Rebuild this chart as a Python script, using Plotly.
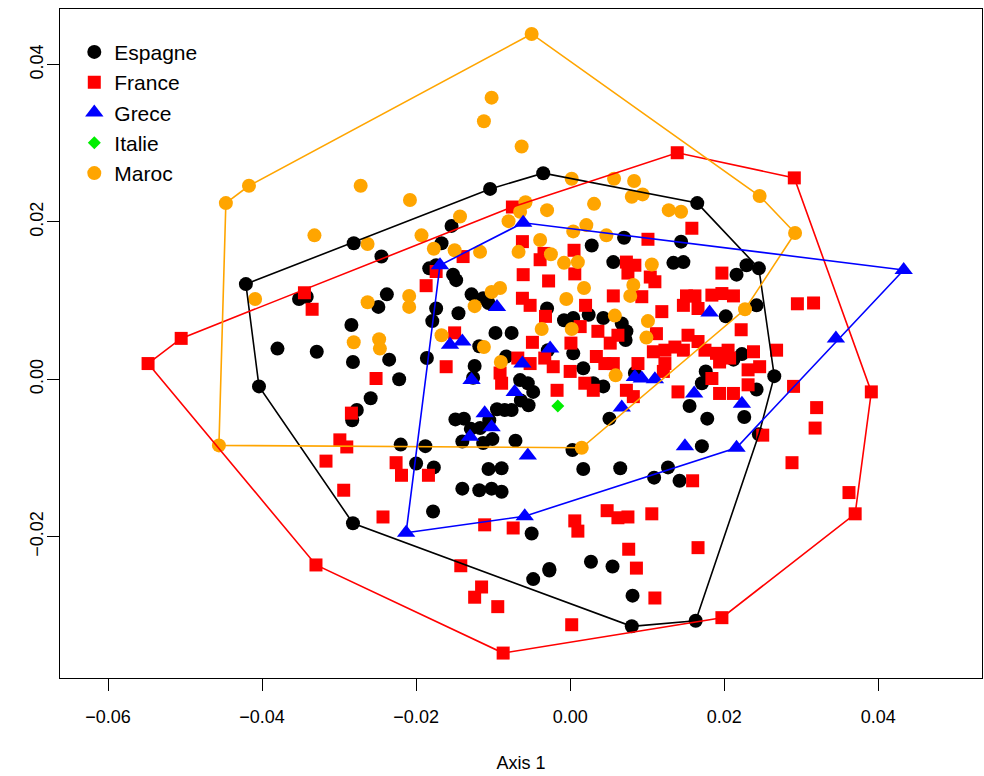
import plotly.graph_objects as go

# ---- Espagne ----
esp_x = [-0.0421, -0.0281, -0.0104, -0.0035, 0.0165, 0.0245, 0.0265, 0.0163, 0.0080, -0.0282, -0.0404,
         -0.0352, -0.0342, -0.0284, -0.0380, -0.0329, -0.0282, -0.0283, -0.0277, -0.0245, -0.0154,
         -0.0167, -0.0174, -0.0183, -0.0152, -0.0148, -0.0238, -0.0249, -0.0174, -0.0179, -0.0145,
         -0.0128, -0.0113, -0.0106, -0.0097, -0.0076, -0.0235, -0.0222, -0.0186, -0.0259, -0.0124,
         -0.0118, -0.0083, -0.0065, -0.0055, -0.0048, -0.0126, -0.0030, -0.0008, 0.0004, 0.0024,
         0.0043, 0.0067, 0.0073, 0.0056, 0.0070, 0.0028, -0.0029, 0.0004, 0.0017, 0.0030, 0.0043,
         0.0072, 0.0084, 0.0144, 0.0134, 0.0147, 0.0229, 0.0216, 0.0242, 0.0202, 0.0223, 0.0212,
         0.0176, 0.0171, 0.0242,
         -0.0220, -0.0188, -0.0200, -0.0177, -0.0149, -0.0138, -0.0129, -0.0117, -0.0105, -0.0095,
         -0.0085, -0.0076, -0.0064, -0.0054, -0.0140, -0.0113, -0.0101, -0.0071, -0.0140, -0.0118,
         -0.0102, -0.0089, -0.0106, -0.0089, -0.0178, -0.0050, -0.0027, -0.0048, -0.0027, 0.0027,
         0.0055, 0.0081, 0.0109, 0.0127, 0.0142, 0.0065, 0.0017, 0.0003, 0.0155, 0.0178, 0.0226,
         0.0245, 0.0171, 0.0051]
esp_y = [0.0121, 0.0173, 0.0242, 0.0262, 0.0224, 0.0141, 0.0004, -0.0307, -0.0314, -0.0183, -0.0009,
         0.0102, 0.0105, 0.0069, 0.0039, 0.0035, 0.0022, -0.0052, -0.0039, 0.0156, 0.0195,
         0.0173, 0.0145, 0.0141, 0.0133, 0.0126, 0.0108, 0.0092, 0.0090, 0.0074, 0.0084,
         0.0108, 0.0103, 0.0097, 0.0059, 0.0059, 0.0025, 0.0000, 0.0027, -0.0024, 0.0017,
         0.0042, 0.0029, -0.0001, -0.0005, -0.0016, 0.0002, 0.0090, 0.0075, 0.0078, 0.0082,
         0.0078, 0.0071, 0.0061, 0.0149, 0.0180, 0.0170, 0.0037, 0.0033, 0.0014, -0.0005, -0.0009,
         0.0050, 0.0008, 0.0175, 0.0148, 0.0149, 0.0145, 0.0133, 0.0094, 0.0080, 0.0032, 0.0025,
         0.0010, -0.0005, -0.0013,
         -0.0083, -0.0085, -0.0107, -0.0112, -0.0051, -0.0050, -0.0063, -0.0062, -0.0052, -0.0038,
         -0.0039, -0.0039, -0.0027, -0.0033, -0.0079, -0.0081, -0.0076, -0.0078, -0.0139, -0.0141,
         -0.0139, -0.0143, -0.0114, -0.0113, -0.0168, -0.0196, -0.0243, -0.0254, -0.0241, -0.0232,
         -0.0238, -0.0275, -0.0125, -0.0112, -0.0129, -0.0113, -0.0114, -0.0090, -0.0034, -0.0050,
         -0.0048, -0.0070, -0.0085, -0.0050, -0.0062]

# ---- France ----
fra_x = [-0.0548, -0.0505, 0.0139, 0.0291, 0.0391, 0.0370, 0.0197, -0.0087, -0.0330,
         -0.0345, -0.0335, -0.0284, -0.0299, -0.0290, -0.0075, -0.0062, -0.0139, -0.0174, -0.0187,
         -0.0039, -0.0034, -0.0061, -0.0028, 0.0005, 0.0006, 0.0073, 0.0084, 0.0075, -0.0062,
         -0.0052, -0.0032, 0.0056, 0.0020, 0.0013, 0.0001, 0.0036, 0.0062, 0.0052, 0.0056, 0.0045,
         0.0034, -0.0150, -0.0161, -0.0049, -0.0033, -0.0022, 0.0000, -0.0052, -0.0068, -0.0091,
         -0.0089, -0.0252, -0.0017, 0.0019, 0.0030, 0.0073, 0.0082, 0.0158, 0.0101, 0.0197, 0.0104,
         0.0110, 0.0295, 0.0316, 0.0093, 0.0151, 0.0162, 0.0147, 0.0166, 0.0184, 0.0197, 0.0212,
         0.0119, 0.0222, 0.0112, 0.0153, 0.0166, 0.0108, 0.0123, 0.0136, 0.0147, 0.0175, 0.0190,
         0.0205, 0.0194, 0.0207, 0.0238, 0.0268, 0.0231, 0.0246, 0.0088, 0.0123, 0.0121, 0.0184,
         0.0140, 0.0194, 0.0212, 0.0231, 0.0290,
         -0.0317, -0.0294, -0.0243, -0.0226, -0.0219, -0.0184, -0.0142, -0.0124, -0.0115, -0.0094,
         -0.0111, -0.0074, 0.0006, 0.0010, 0.0002, 0.0048, 0.0062, 0.0075, 0.0076, 0.0086, 0.0110,
         0.0106, 0.0159, 0.0166, 0.0250, 0.0320, 0.0318, 0.0288, 0.0362]
fra_y = [0.0020, 0.0052, 0.0288, 0.0256, -0.0016, -0.0171, -0.0303, -0.0348, -0.0236,
         0.0110, 0.0089, -0.0043, -0.0077, -0.0086, 0.0219, 0.0175, 0.0156, 0.0137, 0.0119,
         0.0152, 0.0160, 0.0133, 0.0125, 0.0164, 0.0134, 0.0149, 0.0145, 0.0135, 0.0103,
         0.0094, 0.0080, 0.0106, 0.0094, 0.0067, 0.0046, 0.0061, 0.0056, 0.0046, 0.0020, 0.0020,
         0.0029, 0.0059, 0.0016, 0.0047, 0.0027, 0.0016, 0.0010, 0.0020, 0.0027, 0.0008,
         -0.0005, 0.0001, -0.0014, -0.0005, -0.0014, -0.0014, -0.0022, 0.0192, 0.0178, 0.0135, 0.0130,
         0.0124, 0.0096, 0.0097, 0.0105, 0.0106, 0.0106, 0.0094, 0.0090, 0.0107, 0.0109, 0.0106,
         0.0086, 0.0063, 0.0058, 0.0056, 0.0048, 0.0035, 0.0037, 0.0041, 0.0037, 0.0037, 0.0033,
         0.0037, 0.0022, 0.0027, 0.0035, 0.0037, 0.0012, 0.0016, 0.0020, 0.0020, 0.0010, 0.0001,
         -0.0016, -0.0018, -0.0018, -0.0007, -0.0009,
         -0.0104, -0.0141, -0.0175, -0.0106, -0.0122, -0.0122, -0.0237, -0.0277, -0.0264, -0.0289,
         -0.0185, -0.0189, -0.0180, -0.0193, -0.0312, -0.0167, -0.0176, -0.0175, -0.0216, -0.0240,
         -0.0278, -0.0171, -0.0129, -0.0214, -0.0071, -0.0036, -0.0062, -0.0106, -0.0144]

# ---- Grece ----
gre_x = [-0.0213, -0.0169, -0.0061, 0.0433, 0.0345, 0.0216, -0.0059,
         -0.0095, -0.0156, -0.0140, -0.0026, -0.0062, -0.0128, -0.0072, 0.0084, 0.0093, 0.0110,
         0.0181, 0.0161, -0.0111, -0.0130, -0.0102, -0.0055, 0.0149, 0.0223, 0.0067]
gre_y = [-0.0195, 0.0145, 0.0199, 0.0139, 0.0052, -0.0087, -0.0174,
         0.0092, 0.0044, 0.0048, 0.0039, 0.0020, -0.0001, -0.0016, 0.0003, 0.0001, 0.0000,
         0.0085, -0.0018, -0.0043, -0.0073, -0.0061, -0.0097, -0.0085, -0.0031, -0.0036]

# ---- Italie ----
ita_x = [-0.0016]
ita_y = [-0.0034]

# ---- Maroc ----
mar_x = [-0.0447, -0.0050, -0.0102, -0.0112, -0.0063, -0.0417, -0.0332, -0.0272, -0.0208, 0.0002,
         0.0057, 0.0083, 0.0094, 0.0080, 0.0031, -0.0030, -0.0058, -0.0065, -0.0080, -0.0143,
         0.0021, 0.0004, 0.0047, -0.0039, -0.0193, -0.0263, -0.0177, -0.0150, -0.0117, -0.0067,
         -0.0025, -0.0008, 0.0010, 0.0128, 0.0144, 0.0246, 0.0292, 0.0106, 0.0082, 0.0078,
         0.0101, 0.0099, 0.0227, -0.0263, -0.0209, -0.0209, -0.0409, -0.0102, -0.0091, -0.0124,
         0.0018, -0.0005, 0.0058, -0.0037, 0.0002, -0.0167, -0.0281, -0.0248, -0.0247, -0.0112,
         -0.0090, 0.0059, 0.0015, -0.0456]
mar_y = [0.0224, 0.0439, 0.0358, 0.0328, 0.0296, 0.0246, 0.0183, 0.0246, 0.0228, 0.0255,
         0.0255, 0.0252, 0.0235, 0.0232, 0.0223, 0.0215, 0.0225, 0.0213, 0.0201, 0.0207,
         0.0196, 0.0188, 0.0183, 0.0177, 0.0183, 0.0172, 0.0166, 0.0164, 0.0162, 0.0162,
         0.0159, 0.0148, 0.0149, 0.0215, 0.0213, 0.0233, 0.0186, 0.0146, 0.0120, 0.0106,
         0.0074, 0.0053, 0.0089, 0.0098, 0.0106, 0.0092, 0.0102, 0.0111, 0.0116, 0.0093,
         0.0116, 0.0102, 0.0081, 0.0064, 0.0064, 0.0056, 0.0047, 0.0051, 0.0039, 0.0041,
         0.0022, 0.0005, -0.0087, -0.0084]


def convex_hull(xs, ys):
    """Monotone-chain convex hull; returns the closed outline as two lists."""
    pts = sorted(set(zip(xs, ys)))
    if len(pts) < 3:
        return [p[0] for p in pts], [p[1] for p in pts]

    def cross(o, a, b):
        return (a[0] - o[0]) * (b[1] - o[1]) - (a[1] - o[1]) * (b[0] - o[0])

    lower, upper = [], []
    for p in pts:
        while len(lower) >= 2 and cross(lower[-2], lower[-1], p) <= 0:
            lower.pop()
        lower.append(p)
    for p in reversed(pts):
        while len(upper) >= 2 and cross(upper[-2], upper[-1], p) <= 0:
            upper.pop()
        upper.append(p)
    ring = lower[:-1] + upper[:-1]
    ring.append(ring[0])
    return [p[0] for p in ring], [p[1] for p in ring]


groups = [
    ("Espagne", esp_x, esp_y, "black", "circle", 14),
    ("France", fra_x, fra_y, "#ff0000", "square", 13),
    ("Maroc", mar_x, mar_y, "#ffa500", "circle", 14),
    ("Grece", gre_x, gre_y, "#0000ff", "triangle-up", 16),
    ("Italie", ita_x, ita_y, "#00ee00", "diamond", 10),
]
legend_rank = {"Espagne": 1, "France": 2, "Grece": 3, "Italie": 4, "Maroc": 5}

fig = go.Figure()
for name, xs, ys, col, sym, sz in groups:
    fig.add_trace(go.Scatter(
        x=xs, y=ys, mode="markers", name=name, legendrank=legend_rank[name],
        marker=dict(color=col, symbol=sym, size=sz, line=dict(width=0)),
    ))

# convex hull outline of every country with at least three points
for name, xs, ys, col, sym, sz in groups:
    if len(xs) < 3:
        continue
    hx, hy = convex_hull(xs, ys)
    fig.add_trace(go.Scatter(x=hx, y=hy, mode="lines", showlegend=False,
                             line=dict(color=col, width=1.6), hoverinfo="skip"))

font = "Liberation Sans, Arial, Helvetica, sans-serif"
fig.update_layout(
    width=984, height=776,
    margin=dict(l=60, r=2, t=9, b=98),
    paper_bgcolor="white", plot_bgcolor="white",
    font=dict(family=font, size=18, color="black"),
    showlegend=True,
    legend=dict(x=0.0155, y=0.966, xanchor="left", yanchor="top",
                bgcolor="rgba(0,0,0,0)", borderwidth=0,
                font=dict(size=21), tracegroupgap=0, itemsizing="trace"),
    xaxis=dict(range=[-0.066234, 0.053468], tickvals=[-0.06, -0.04, -0.02, 0.0, 0.02, 0.04],
               tickformat=".2f", ticks="outside", ticklen=12, tickwidth=1, tickcolor="black",
               showgrid=False, zeroline=False, showline=True, mirror=True, linecolor="black",
               linewidth=1.2, ticklabelstandoff=10,
               title=dict(text="Axis 1", standoff=30, font=dict(size=18)),
               tickfont=dict(size=18)),
    yaxis=dict(range=[-0.037969, 0.047070], tickvals=[-0.02, 0.0, 0.02, 0.04],
               tickformat=".2f", ticks="outside", ticklen=12, tickwidth=1, tickcolor="black",
               showgrid=False, zeroline=False, showline=True, mirror=True, linecolor="black",
               linewidth=1.2, tickangle=-90, ticklabelstandoff=-3, tickfont=dict(size=18)),
)

fig.write_html("out.html")
